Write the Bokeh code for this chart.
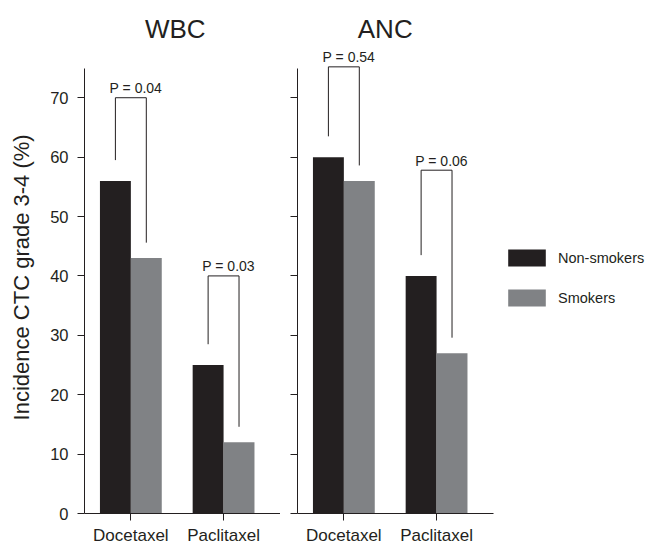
import math
from bokeh.plotting import figure
from bokeh.layouts import row
from bokeh.models import Range1d, FixedTicker, Legend, LegendItem, ColumnDataSource
from bokeh.core.properties import value
from bokeh.embed import file_html
from bokeh.resources import INLINE

# ---------------- data ----------------
categories = ["Docetaxel", "Paclitaxel"]
panel_titles = ["WBC", "ANC"]
series_names = ["Non-smokers", "Smokers"]

wbc_nonsmokers = [56, 25]
wbc_smokers = [43, 12]
anc_nonsmokers = [60, 40]
anc_smokers = [56, 27]

wbc_pvalues = ["P = 0.04", "P = 0.03"]
anc_pvalues = ["P = 0.54", "P = 0.06"]
wbc_bracket_top = [70, 40]
anc_bracket_top = [75.2, 57.8]

y_ticks = [0, 10, 20, 30, 40, 50, 60, 70]
y_label = "Incidence CTC grade 3-4  (%)"

# ---------------- style ----------------
FONT = "Liberation Sans"
DARK = "#231f20"
GREY = "#808285"
TEXT = "#231f20"
BAR_W = 1 / 3
X_START, X_END = 0.5, 2.614
Y_END = 86.37
Y_BOUNDS = (0, 75)
GAP_L, GAP_R = 3.5, 2.6
PX_PER_X = 196 / (X_END - X_START)
H = 547
LABEL_W = 40


def make_panel(p, ns, sm, pvals, tops, title, title_offset):
    xs = [i + 1 for i in range(len(categories))]
    src = ColumnDataSource(dict(
        x_ns=[x - BAR_W / 2 for x in xs], x_sm=[x + BAR_W / 2 for x in xs],
        ns=ns, sm=sm))
    r_ns = p.vbar(x="x_ns", top="ns", bottom=0, width=BAR_W, source=src,
                  fill_color=DARK, line_color=None)
    r_sm = p.vbar(x="x_sm", top="sm", bottom=0, width=BAR_W, source=src,
                  fill_color=GREY, line_color=None)
    bxs, bys = [], []
    for x, a, b, t in zip(xs, ns, sm, tops):
        xl, xr = x - BAR_W / 2, x + BAR_W / 2
        bxs.append([xl, xl, xr, xr])
        bys.append([a + GAP_L, t, t, b + GAP_R])
    p.multi_line(xs=bxs, ys=bys, line_color=DARK, line_width=1)
    p.text(x=xs, y=[t + 1.6 for t in tops], text=pvals, x_offset=5,
           text_align="center", text_baseline="alphabetic",
           text_font=value(FONT), text_font_size="14px", text_color=TEXT)
    p.text(x=[1.5], y=[81.6], text=[title], x_offset=title_offset,
           text_align="center", text_baseline="alphabetic",
           text_font=value(FONT), text_font_size="26px", text_color=TEXT)
    return r_ns, r_sm


def style(p, show_labels):
    p.outline_line_color = None
    p.grid.visible = False
    p.background_fill_color = "white"
    p.border_fill_color = "white"
    ya = p.yaxis[0]
    ya.ticker = FixedTicker(ticks=y_ticks)
    ya.bounds = Y_BOUNDS
    ya.major_tick_out = 7
    ya.major_tick_in = 0
    ya.minor_tick_out = 0
    ya.minor_tick_in = 0
    ya.axis_line_color = DARK
    ya.major_tick_line_color = DARK
    ya.major_label_text_font = FONT
    ya.major_label_text_font_size = "16.5px"
    ya.major_label_text_color = TEXT
    ya.major_label_standoff = 9
    if not show_labels:
        ya.major_label_overrides = {t: "" for t in y_ticks}
    xa = p.xaxis[0]
    xa.ticker = FixedTicker(ticks=[1, 2])
    xa.major_label_overrides = {i + 1: c for i, c in enumerate(categories)}
    xa.bounds = (X_START, X_END)
    xa.major_tick_out = 7
    xa.major_tick_in = 0
    xa.minor_tick_out = 0
    xa.minor_tick_in = 0
    xa.axis_line_color = DARK
    xa.major_tick_line_color = DARK
    xa.major_label_text_font = FONT
    xa.major_label_text_font_size = "17px"
    xa.major_label_text_color = TEXT
    xa.major_label_standoff = 5


# y-axis title strip (screen-pixel ranges)
p0 = figure(width=LABEL_W, height=H, x_range=Range1d(0, LABEL_W), y_range=Range1d(0, H),
            output_backend="svg", toolbar_location=None, x_axis_location=None,
            y_axis_location=None, min_border=0)
p0.outline_line_color = None
p0.grid.visible = False
p0.text(x=[20.5], y=[H - 292], text=[y_label], angle=math.pi / 2,
        text_align="center", text_baseline="middle",
        text_font=value(FONT), text_font_size="22px", text_color=TEXT)

p1 = figure(width=280 - LABEL_W, height=H, x_range=Range1d(X_START, X_END),
            y_range=Range1d(0, Y_END), output_backend="svg", toolbar_location=None,
            min_border_left=84 - LABEL_W, min_border_right=0, min_border_top=0,
            min_border_bottom=34)
style(p1, True)
make_panel(p1, wbc_nonsmokers, wbc_smokers, wbc_pvalues, wbc_bracket_top, panel_titles[0], -2)

p2 = figure(width=365, height=H, x_range=Range1d(X_START, X_START + 348 / PX_PER_X),
            y_range=Range1d(0, Y_END), output_backend="svg", toolbar_location=None,
            min_border_left=17, min_border_right=0, min_border_top=0, min_border_bottom=34)
style(p2, False)
r_ns, r_sm = make_panel(p2, anc_nonsmokers, anc_smokers, anc_pvalues, anc_bracket_top,
                        panel_titles[1], -5)

legend = Legend(items=[LegendItem(label=series_names[0], renderers=[r_ns]),
                       LegendItem(label=series_names[1], renderers=[r_sm])],
                location=(206, 205), glyph_width=47, glyph_height=21, spacing=19,
                padding=0, margin=0, border_line_color=None, background_fill_alpha=0,
                label_standoff=8, label_text_font=FONT, label_text_font_size="14.5px",
                label_text_color=TEXT)
p2.add_layout(legend)

layout = row(p0, p1, p2, spacing=0)
open("out.html", "w").write(file_html(layout, INLINE))
